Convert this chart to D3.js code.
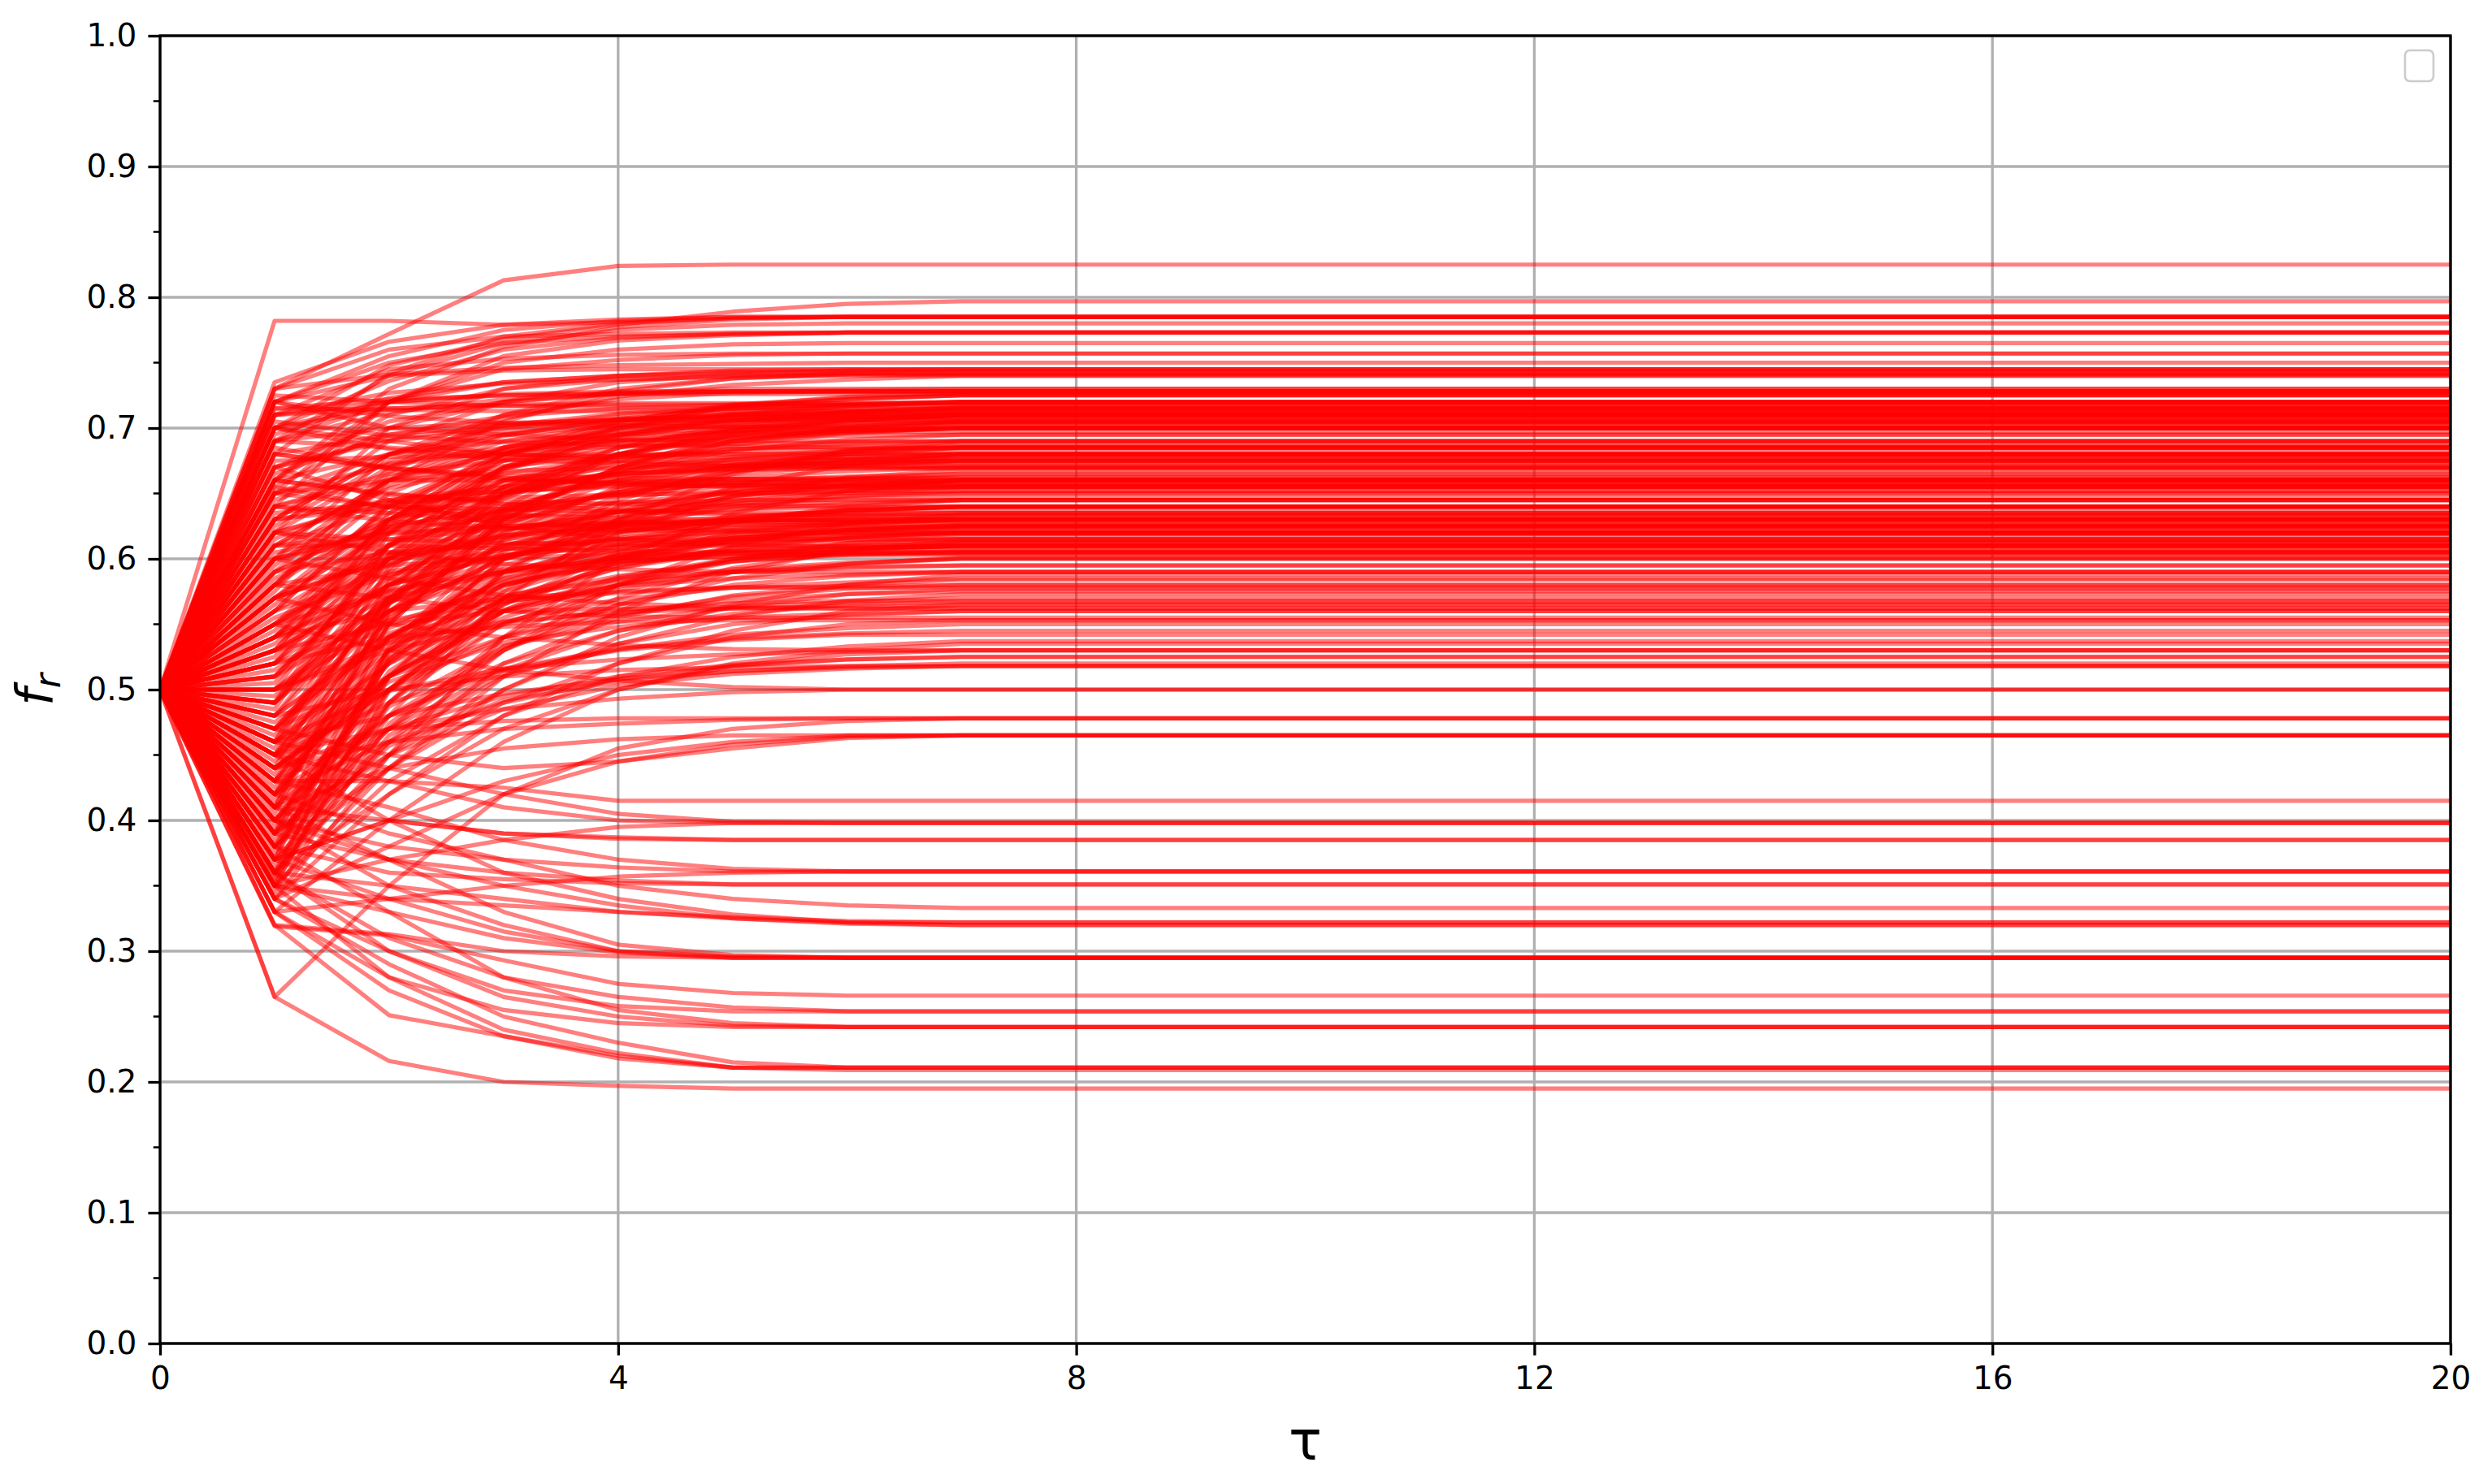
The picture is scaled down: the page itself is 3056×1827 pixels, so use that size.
<!DOCTYPE html>
<html>
<head>
<meta charset="utf-8">
<script src="https://cdn.jsdelivr.net/npm/d3@7"></script>
<style>
  html, body { margin: 0; padding: 0; background: #fff; }
  svg text { font-family: 'DejaVu Sans', sans-serif; fill: #000; }
</style>
</head>
<body>
<div id="chart"></div>
<script>
// time steps where each run is sampled (runs are flat after tau = 7)
const tau = [0, 1, 2, 3, 4, 5, 6, 7, 20]
const xTicks = [0, 4, 8, 12, 16, 20]
const yTicks = [0, 0.1, 0.2, 0.3, 0.4, 0.5, 0.6, 0.7, 0.8, 0.9, 1.0]
const yMinorTicks = [0.05, 0.15, 0.25, 0.35, 0.45, 0.55, 0.65, 0.75, 0.85, 0.95]

// f_r per run, grouped by where the run settles
const upperRuns = [
  [0.5, 0.73, 0.772, 0.813, 0.824, 0.825, 0.825, 0.825, 0.825],
  [0.5, 0.782, 0.782, 0.779, 0.781, 0.784, 0.785, 0.785, 0.785],
  [0.5, 0.70, 0.748, 0.768, 0.779, 0.789, 0.795, 0.797, 0.797],
  [0.5, 0.735, 0.766, 0.779, 0.783, 0.785, 0.785, 0.785, 0.785],
  [0.5, 0.68, 0.742, 0.77, 0.78, 0.784, 0.785, 0.785, 0.785],
  [0.5, 0.66, 0.73, 0.762, 0.777, 0.783, 0.785, 0.785, 0.785],
  [0.5, 0.72, 0.755, 0.775, 0.782, 0.785, 0.785, 0.785, 0.785],
  [0.5, 0.69, 0.74, 0.765, 0.775, 0.779, 0.78, 0.78, 0.78],
  [0.5, 0.73, 0.76, 0.77, 0.772, 0.773, 0.773, 0.773, 0.773],
  [0.5, 0.64, 0.72, 0.755, 0.767, 0.771, 0.773, 0.773, 0.773],
  [0.5, 0.70, 0.736, 0.76, 0.769, 0.772, 0.773, 0.773, 0.773],
  [0.5, 0.72, 0.75, 0.765, 0.77, 0.772, 0.773, 0.773, 0.773],
  [0.5, 0.65, 0.72, 0.75, 0.76, 0.764, 0.765, 0.765, 0.765],
  [0.5, 0.66, 0.72, 0.745, 0.752, 0.756, 0.757, 0.757, 0.757],
  [0.5, 0.71, 0.745, 0.753, 0.756, 0.757, 0.757, 0.757, 0.757],
  [0.5, 0.72, 0.74, 0.744, 0.745, 0.745, 0.745, 0.745, 0.745],
  [0.5, 0.62, 0.70, 0.73, 0.74, 0.744, 0.745, 0.745, 0.745],
  [0.5, 0.63, 0.69, 0.72, 0.735, 0.741, 0.744, 0.744, 0.744],
  [0.5, 0.69, 0.72, 0.735, 0.74, 0.742, 0.742, 0.742, 0.742],
  [0.5, 0.58, 0.66, 0.705, 0.728, 0.738, 0.742, 0.743, 0.743],
  [0.5, 0.58, 0.67, 0.71, 0.73, 0.738, 0.741, 0.741, 0.741],
  [0.5, 0.66, 0.71, 0.73, 0.737, 0.74, 0.741, 0.741, 0.741],
  [0.5, 0.67, 0.705, 0.72, 0.727, 0.73, 0.73, 0.73, 0.73],
  [0.5, 0.71, 0.72, 0.726, 0.728, 0.728, 0.728, 0.728, 0.728],
  [0.5, 0.60, 0.68, 0.71, 0.722, 0.727, 0.728, 0.728, 0.728],
  [0.5, 0.655, 0.70, 0.72, 0.726, 0.728, 0.728, 0.728, 0.728],
  [0.5, 0.52, 0.61, 0.67, 0.70, 0.717, 0.724, 0.727, 0.727],
  [0.5, 0.70, 0.72, 0.725, 0.726, 0.726, 0.726, 0.726, 0.726],
  [0.5, 0.54, 0.63, 0.68, 0.705, 0.718, 0.723, 0.725, 0.725],
]

const highBandRuns = [
  [0.5, 0.70, 0.715, 0.718, 0.719, 0.719, 0.719, 0.719, 0.719],
  [0.5, 0.71, 0.715, 0.717, 0.718, 0.718, 0.718, 0.718, 0.718],
  [0.5, 0.63, 0.68, 0.70, 0.71, 0.715, 0.717, 0.717, 0.717],
  [0.5, 0.49, 0.59, 0.65, 0.685, 0.703, 0.712, 0.716, 0.716],
  [0.5, 0.56, 0.64, 0.68, 0.70, 0.71, 0.714, 0.715, 0.715],
  [0.5, 0.53, 0.62, 0.67, 0.695, 0.707, 0.712, 0.714, 0.714],
  [0.5, 0.715, 0.714, 0.713, 0.713, 0.713, 0.713, 0.713, 0.713],
  [0.5, 0.67, 0.69, 0.70, 0.707, 0.71, 0.712, 0.712, 0.712],
  [0.5, 0.46, 0.57, 0.64, 0.68, 0.70, 0.709, 0.712, 0.712],
  [0.5, 0.60, 0.66, 0.69, 0.703, 0.709, 0.711, 0.711, 0.711],
  [0.5, 0.62, 0.67, 0.695, 0.706, 0.71, 0.711, 0.711, 0.711],
  [0.5, 0.45, 0.55, 0.63, 0.67, 0.695, 0.705, 0.71, 0.71],
  [0.5, 0.55, 0.63, 0.675, 0.697, 0.706, 0.709, 0.71, 0.71],
  [0.5, 0.68, 0.695, 0.703, 0.707, 0.709, 0.709, 0.709, 0.709],
  [0.5, 0.51, 0.60, 0.655, 0.685, 0.70, 0.706, 0.708, 0.708],
  [0.5, 0.58, 0.65, 0.685, 0.70, 0.706, 0.708, 0.708, 0.708],
  [0.5, 0.69, 0.70, 0.704, 0.706, 0.706, 0.706, 0.706, 0.706],
  [0.5, 0.65, 0.68, 0.695, 0.702, 0.705, 0.706, 0.706, 0.706],
  [0.5, 0.49, 0.58, 0.635, 0.67, 0.69, 0.70, 0.704, 0.704],
  [0.5, 0.61, 0.66, 0.685, 0.697, 0.702, 0.703, 0.703, 0.703],
  [0.5, 0.42, 0.55, 0.63, 0.67, 0.69, 0.70, 0.703, 0.703],
  [0.5, 0.52, 0.60, 0.65, 0.68, 0.693, 0.698, 0.70, 0.70],
  [0.5, 0.57, 0.64, 0.675, 0.69, 0.698, 0.70, 0.70, 0.70],
  [0.5, 0.66, 0.68, 0.69, 0.695, 0.697, 0.697, 0.697, 0.697],
  [0.5, 0.72, 0.70, 0.695, 0.691, 0.69, 0.69, 0.69, 0.69],
  [0.5, 0.36, 0.48, 0.57, 0.63, 0.665, 0.683, 0.69, 0.69],
  [0.5, 0.43, 0.53, 0.60, 0.645, 0.67, 0.682, 0.687, 0.687],
  [0.5, 0.57, 0.63, 0.665, 0.678, 0.684, 0.686, 0.686, 0.686],
  [0.5, 0.39, 0.51, 0.59, 0.64, 0.667, 0.68, 0.685, 0.685],
  [0.5, 0.47, 0.56, 0.62, 0.655, 0.672, 0.68, 0.682, 0.682],
  [0.5, 0.64, 0.665, 0.675, 0.679, 0.68, 0.68, 0.68, 0.68],
  [0.5, 0.40, 0.50, 0.575, 0.625, 0.655, 0.672, 0.679, 0.679],
  [0.5, 0.48, 0.57, 0.63, 0.66, 0.672, 0.676, 0.677, 0.677],
  [0.5, 0.69, 0.685, 0.68, 0.678, 0.677, 0.677, 0.677, 0.677],
  [0.5, 0.54, 0.61, 0.65, 0.667, 0.674, 0.676, 0.676, 0.676],
  [0.5, 0.54, 0.60, 0.64, 0.66, 0.67, 0.674, 0.675, 0.675],
  [0.5, 0.57, 0.62, 0.65, 0.665, 0.671, 0.673, 0.674, 0.674],
  [0.5, 0.70, 0.69, 0.68, 0.675, 0.673, 0.673, 0.673, 0.673],
  [0.5, 0.64, 0.66, 0.667, 0.67, 0.671, 0.671, 0.671, 0.671],
  [0.5, 0.59, 0.63, 0.655, 0.665, 0.669, 0.67, 0.67, 0.67],
  [0.5, 0.61, 0.64, 0.657, 0.665, 0.668, 0.669, 0.669, 0.669],
  [0.5, 0.38, 0.49, 0.57, 0.62, 0.648, 0.662, 0.668, 0.668],
  [0.5, 0.56, 0.61, 0.637, 0.651, 0.658, 0.661, 0.662, 0.662],
  [0.5, 0.59, 0.63, 0.65, 0.658, 0.661, 0.662, 0.662, 0.662],
  [0.5, 0.62, 0.645, 0.655, 0.659, 0.661, 0.661, 0.661, 0.661],
  [0.5, 0.34, 0.45, 0.54, 0.60, 0.635, 0.652, 0.66, 0.66],
  [0.5, 0.42, 0.52, 0.59, 0.63, 0.648, 0.655, 0.658, 0.658],
  [0.5, 0.52, 0.58, 0.62, 0.64, 0.651, 0.656, 0.658, 0.658],
  [0.5, 0.65, 0.66, 0.66, 0.659, 0.658, 0.658, 0.658, 0.658],
  [0.5, 0.63, 0.645, 0.652, 0.655, 0.656, 0.656, 0.656, 0.656],
  [0.5, 0.68, 0.67, 0.662, 0.657, 0.655, 0.655, 0.655, 0.655],
  [0.5, 0.55, 0.60, 0.63, 0.643, 0.65, 0.652, 0.652, 0.652],
  [0.5, 0.50, 0.56, 0.60, 0.625, 0.64, 0.648, 0.652, 0.652],
  [0.5, 0.50, 0.57, 0.61, 0.632, 0.642, 0.646, 0.647, 0.647],
  [0.5, 0.60, 0.625, 0.637, 0.643, 0.645, 0.645, 0.645, 0.645],
  [0.5, 0.41, 0.50, 0.565, 0.605, 0.628, 0.64, 0.645, 0.645],
]

const midBandRuns = [
  [0.5, 0.63, 0.64, 0.638, 0.636, 0.634, 0.633, 0.633, 0.633],
  [0.5, 0.49, 0.56, 0.60, 0.62, 0.63, 0.637, 0.638, 0.638],
  [0.5, 0.66, 0.65, 0.642, 0.637, 0.635, 0.635, 0.635, 0.635],
  [0.5, 0.37, 0.46, 0.53, 0.58, 0.61, 0.627, 0.634, 0.634],
  [0.5, 0.53, 0.58, 0.61, 0.625, 0.63, 0.632, 0.632, 0.632],
  [0.5, 0.57, 0.60, 0.617, 0.625, 0.629, 0.63, 0.631, 0.631],
  [0.5, 0.40, 0.49, 0.56, 0.60, 0.62, 0.627, 0.63, 0.63],
  [0.5, 0.60, 0.615, 0.623, 0.627, 0.629, 0.63, 0.63, 0.63],
  [0.5, 0.65, 0.64, 0.634, 0.631, 0.63, 0.629, 0.629, 0.629],
  [0.5, 0.61, 0.62, 0.625, 0.627, 0.628, 0.628, 0.628, 0.628],
  [0.5, 0.57, 0.60, 0.615, 0.622, 0.625, 0.626, 0.626, 0.626],
  [0.5, 0.43, 0.51, 0.565, 0.597, 0.614, 0.622, 0.626, 0.626],
  [0.5, 0.47, 0.54, 0.585, 0.607, 0.618, 0.623, 0.625, 0.625],
  [0.5, 0.54, 0.58, 0.603, 0.615, 0.621, 0.624, 0.625, 0.625],
  [0.5, 0.48, 0.54, 0.58, 0.603, 0.616, 0.622, 0.624, 0.624],
  [0.5, 0.46, 0.53, 0.575, 0.60, 0.614, 0.621, 0.624, 0.624],
  [0.5, 0.64, 0.635, 0.628, 0.624, 0.622, 0.622, 0.622, 0.622],
  [0.5, 0.51, 0.56, 0.59, 0.607, 0.616, 0.62, 0.621, 0.621],
  [0.5, 0.56, 0.59, 0.607, 0.615, 0.619, 0.62, 0.62, 0.62],
  [0.5, 0.45, 0.52, 0.57, 0.595, 0.608, 0.616, 0.619, 0.619],
  [0.5, 0.38, 0.47, 0.54, 0.58, 0.60, 0.612, 0.617, 0.617],
  [0.5, 0.59, 0.605, 0.611, 0.614, 0.615, 0.615, 0.615, 0.615],
  [0.5, 0.35, 0.44, 0.51, 0.56, 0.59, 0.607, 0.614, 0.614],
  [0.5, 0.45, 0.51, 0.555, 0.583, 0.60, 0.609, 0.613, 0.613],
  [0.5, 0.50, 0.55, 0.58, 0.597, 0.606, 0.61, 0.612, 0.612],
  [0.5, 0.39, 0.47, 0.53, 0.57, 0.593, 0.606, 0.612, 0.612],
  [0.5, 0.62, 0.615, 0.612, 0.611, 0.61, 0.61, 0.61, 0.61],
  [0.5, 0.44, 0.50, 0.55, 0.58, 0.598, 0.607, 0.61, 0.61],
  [0.5, 0.67, 0.645, 0.625, 0.615, 0.611, 0.609, 0.609, 0.609],
  [0.5, 0.53, 0.57, 0.59, 0.60, 0.605, 0.607, 0.607, 0.607],
  [0.5, 0.44, 0.51, 0.56, 0.585, 0.598, 0.604, 0.606, 0.606],
  [0.5, 0.61, 0.61, 0.608, 0.606, 0.605, 0.605, 0.605, 0.605],
  [0.5, 0.58, 0.595, 0.601, 0.603, 0.604, 0.604, 0.604, 0.604],
  [0.5, 0.55, 0.575, 0.59, 0.598, 0.602, 0.603, 0.603, 0.603],
  [0.5, 0.41, 0.48, 0.53, 0.565, 0.585, 0.596, 0.601, 0.601],
]

// runs that fill the fan between tau = 0 and tau = 4
const fanRuns = [
  [0.5, 0.35, 0.499, 0.566, 0.593, 0.609, 0.616, 0.62, 0.62],
  [0.5, 0.36, 0.525, 0.60, 0.63, 0.648, 0.656, 0.66, 0.66],
  [0.5, 0.37, 0.552, 0.634, 0.667, 0.687, 0.696, 0.70, 0.70],
  [0.5, 0.38, 0.523, 0.588, 0.614, 0.63, 0.637, 0.64, 0.64],
  [0.5, 0.39, 0.566, 0.646, 0.678, 0.697, 0.706, 0.71, 0.71],
  [0.5, 0.40, 0.51, 0.56, 0.58, 0.592, 0.597, 0.60, 0.60],
  [0.5, 0.41, 0.559, 0.626, 0.653, 0.669, 0.676, 0.68, 0.68],
  [0.5, 0.42, 0.53, 0.58, 0.60, 0.612, 0.617, 0.62, 0.62],
  [0.5, 0.43, 0.557, 0.614, 0.637, 0.651, 0.657, 0.66, 0.66],
  [0.5, 0.44, 0.583, 0.648, 0.674, 0.69, 0.697, 0.70, 0.70],
  [0.5, 0.45, 0.555, 0.602, 0.621, 0.632, 0.637, 0.64, 0.64],
  [0.5, 0.46, 0.603, 0.668, 0.694, 0.71, 0.717, 0.72, 0.72],
  [0.5, 0.47, 0.547, 0.582, 0.596, 0.604, 0.608, 0.61, 0.61],
  [0.5, 0.48, 0.585, 0.632, 0.651, 0.662, 0.667, 0.67, 0.67],
  [0.5, 0.49, 0.567, 0.602, 0.616, 0.624, 0.628, 0.63, 0.63],
  [0.5, 0.50, 0.61, 0.66, 0.68, 0.692, 0.697, 0.70, 0.70],
  [0.5, 0.51, 0.587, 0.622, 0.636, 0.644, 0.648, 0.65, 0.65],
  [0.5, 0.52, 0.63, 0.68, 0.70, 0.712, 0.717, 0.72, 0.72],
  [0.5, 0.53, 0.58, 0.602, 0.611, 0.616, 0.618, 0.62, 0.62],
  [0.5, 0.54, 0.623, 0.66, 0.675, 0.684, 0.688, 0.69, 0.69],
  [0.5, 0.55, 0.611, 0.638, 0.649, 0.656, 0.658, 0.66, 0.66],
  [0.5, 0.56, 0.643, 0.68, 0.695, 0.704, 0.708, 0.71, 0.71],
  [0.5, 0.57, 0.603, 0.618, 0.624, 0.628, 0.629, 0.63, 0.63],
  [0.5, 0.58, 0.635, 0.66, 0.67, 0.676, 0.678, 0.68, 0.68],
  [0.5, 0.59, 0.662, 0.694, 0.707, 0.715, 0.718, 0.72, 0.72],
  [0.5, 0.60, 0.622, 0.632, 0.636, 0.638, 0.639, 0.64, 0.64],
  [0.5, 0.61, 0.66, 0.682, 0.691, 0.696, 0.698, 0.70, 0.70],
  [0.5, 0.62, 0.642, 0.652, 0.656, 0.658, 0.659, 0.66, 0.66],
  [0.5, 0.63, 0.68, 0.702, 0.711, 0.716, 0.718, 0.72, 0.72],
  [0.5, 0.64, 0.629, 0.624, 0.622, 0.621, 0.62, 0.62, 0.62],
  [0.5, 0.65, 0.672, 0.682, 0.686, 0.688, 0.689, 0.69, 0.69],
  [0.5, 0.66, 0.649, 0.644, 0.642, 0.641, 0.64, 0.64, 0.64],
  [0.5, 0.67, 0.692, 0.702, 0.706, 0.708, 0.709, 0.71, 0.71],
  [0.5, 0.68, 0.669, 0.664, 0.662, 0.661, 0.66, 0.66, 0.66],
  [0.5, 0.69, 0.712, 0.722, 0.726, 0.728, 0.729, 0.73, 0.73],
  [0.5, 0.70, 0.684, 0.676, 0.673, 0.671, 0.67, 0.67, 0.67],
  [0.5, 0.71, 0.727, 0.734, 0.737, 0.739, 0.74, 0.74, 0.74],
  [0.5, 0.72, 0.709, 0.704, 0.702, 0.701, 0.70, 0.70, 0.70],
  [0.5, 0.73, 0.741, 0.746, 0.748, 0.749, 0.75, 0.75, 0.75],
  [0.5, 0.345, 0.474, 0.533, 0.557, 0.571, 0.577, 0.58, 0.58],
  [0.5, 0.355, 0.534, 0.615, 0.648, 0.667, 0.675, 0.68, 0.68],
  [0.5, 0.365, 0.50, 0.561, 0.586, 0.60, 0.606, 0.61, 0.61],
  [0.5, 0.375, 0.529, 0.599, 0.627, 0.644, 0.651, 0.655, 0.655],
  [0.5, 0.385, 0.487, 0.533, 0.552, 0.563, 0.567, 0.57, 0.57],
  [0.5, 0.395, 0.522, 0.579, 0.602, 0.616, 0.622, 0.625, 0.625],
  [0.5, 0.405, 0.565, 0.637, 0.666, 0.683, 0.691, 0.695, 0.695],
  [0.5, 0.415, 0.539, 0.595, 0.618, 0.631, 0.637, 0.64, 0.64],
  [0.5, 0.425, 0.524, 0.569, 0.587, 0.598, 0.603, 0.605, 0.605],
  [0.5, 0.435, 0.567, 0.627, 0.651, 0.665, 0.671, 0.675, 0.675],
  [0.5, 0.445, 0.541, 0.585, 0.603, 0.613, 0.617, 0.62, 0.62],
  [0.5, 0.455, 0.593, 0.655, 0.68, 0.695, 0.701, 0.705, 0.705],
  [0.5, 0.465, 0.57, 0.617, 0.636, 0.647, 0.652, 0.655, 0.655],
  [0.5, 0.475, 0.538, 0.567, 0.579, 0.585, 0.588, 0.59, 0.59],
  [0.5, 0.485, 0.612, 0.669, 0.692, 0.706, 0.712, 0.715, 0.715],
  [0.5, 0.495, 0.572, 0.607, 0.621, 0.629, 0.633, 0.635, 0.635],
  [0.5, 0.505, 0.604, 0.649, 0.667, 0.678, 0.683, 0.685, 0.685],
  [0.5, 0.515, 0.567, 0.591, 0.601, 0.606, 0.608, 0.61, 0.61],
  [0.5, 0.525, 0.635, 0.685, 0.705, 0.717, 0.722, 0.725, 0.725],
  [0.5, 0.535, 0.596, 0.623, 0.634, 0.641, 0.643, 0.645, 0.645],
  [0.5, 0.545, 0.63, 0.669, 0.685, 0.694, 0.698, 0.70, 0.70],
  [0.5, 0.555, 0.588, 0.603, 0.609, 0.613, 0.614, 0.615, 0.615],
  [0.5, 0.565, 0.626, 0.653, 0.664, 0.671, 0.673, 0.675, 0.675],
  [0.5, 0.575, 0.666, 0.707, 0.724, 0.733, 0.737, 0.74, 0.74],
  [0.5, 0.585, 0.624, 0.641, 0.648, 0.652, 0.654, 0.655, 0.655],
  [0.5, 0.595, 0.656, 0.683, 0.694, 0.701, 0.703, 0.705, 0.705],
  [0.5, 0.605, 0.619, 0.625, 0.628, 0.629, 0.63, 0.63, 0.63],
  [0.5, 0.615, 0.654, 0.671, 0.678, 0.682, 0.684, 0.685, 0.685],
  [0.5, 0.625, 0.675, 0.697, 0.706, 0.711, 0.713, 0.715, 0.715],
  [0.5, 0.635, 0.643, 0.647, 0.649, 0.65, 0.65, 0.65, 0.65],
  [0.5, 0.645, 0.673, 0.685, 0.69, 0.693, 0.694, 0.695, 0.695],
  [0.5, 0.655, 0.639, 0.631, 0.628, 0.626, 0.625, 0.625, 0.625],
  [0.5, 0.665, 0.695, 0.709, 0.715, 0.718, 0.719, 0.72, 0.72],
  [0.5, 0.675, 0.678, 0.679, 0.68, 0.68, 0.68, 0.68, 0.68],
  [0.5, 0.685, 0.669, 0.661, 0.658, 0.656, 0.655, 0.655, 0.655],
  [0.5, 0.695, 0.723, 0.735, 0.74, 0.743, 0.744, 0.745, 0.745],
  [0.5, 0.705, 0.694, 0.689, 0.687, 0.686, 0.685, 0.685, 0.685],
  [0.5, 0.715, 0.722, 0.725, 0.727, 0.728, 0.728, 0.728, 0.728],
  [0.5, 0.725, 0.72, 0.717, 0.716, 0.715, 0.715, 0.715, 0.715],
  [0.5, 0.36, 0.465, 0.512, 0.531, 0.542, 0.547, 0.55, 0.55],
  [0.5, 0.38, 0.457, 0.492, 0.506, 0.514, 0.518, 0.52, 0.52],
  [0.5, 0.40, 0.48, 0.516, 0.531, 0.539, 0.543, 0.545, 0.545],
  [0.5, 0.42, 0.511, 0.552, 0.569, 0.578, 0.582, 0.585, 0.585],
  [0.5, 0.44, 0.506, 0.536, 0.548, 0.555, 0.558, 0.56, 0.56],
  [0.5, 0.46, 0.499, 0.516, 0.523, 0.527, 0.529, 0.53, 0.53],
  [0.5, 0.48, 0.543, 0.572, 0.584, 0.59, 0.593, 0.595, 0.595],
  [0.5, 0.50, 0.536, 0.552, 0.559, 0.562, 0.564, 0.565, 0.565],
  [0.5, 0.52, 0.553, 0.568, 0.574, 0.578, 0.579, 0.58, 0.58],
  [0.5, 0.54, 0.576, 0.592, 0.599, 0.602, 0.604, 0.605, 0.605],
  [0.5, 0.35, 0.51, 0.582, 0.611, 0.628, 0.636, 0.64, 0.64],
  [0.5, 0.355, 0.49, 0.551, 0.576, 0.59, 0.596, 0.60, 0.60],
  [0.5, 0.37, 0.532, 0.606, 0.636, 0.653, 0.661, 0.665, 0.665],
  [0.5, 0.39, 0.514, 0.57, 0.593, 0.606, 0.612, 0.615, 0.615],
  [0.5, 0.41, 0.575, 0.65, 0.68, 0.698, 0.706, 0.71, 0.71],
  [0.5, 0.43, 0.54, 0.59, 0.61, 0.622, 0.627, 0.63, 0.63],
  [0.5, 0.45, 0.579, 0.638, 0.662, 0.676, 0.682, 0.685, 0.685],
  [0.5, 0.47, 0.566, 0.61, 0.628, 0.638, 0.642, 0.645, 0.645],
  [0.5, 0.49, 0.619, 0.678, 0.702, 0.716, 0.722, 0.725, 0.725],
  [0.5, 0.51, 0.595, 0.634, 0.65, 0.659, 0.663, 0.665, 0.665],
  [0.5, 0.53, 0.626, 0.67, 0.688, 0.698, 0.702, 0.705, 0.705],
  [0.5, 0.55, 0.597, 0.618, 0.627, 0.632, 0.634, 0.635, 0.635],
]

const lowBandRuns = [
  [0.5, 0.46, 0.52, 0.56, 0.58, 0.59, 0.594, 0.595, 0.595],
  [0.5, 0.62, 0.605, 0.596, 0.592, 0.59, 0.59, 0.59, 0.59],
  [0.5, 0.44, 0.50, 0.54, 0.565, 0.58, 0.587, 0.59, 0.59],
  [0.5, 0.39, 0.45, 0.50, 0.54, 0.565, 0.58, 0.588, 0.588],
  [0.5, 0.36, 0.45, 0.52, 0.555, 0.572, 0.58, 0.584, 0.584],
  [0.5, 0.54, 0.56, 0.57, 0.575, 0.578, 0.578, 0.578, 0.578],
  [0.5, 0.41, 0.47, 0.515, 0.545, 0.563, 0.573, 0.577, 0.577],
  [0.5, 0.47, 0.51, 0.54, 0.558, 0.568, 0.573, 0.575, 0.575],
  [0.5, 0.37, 0.44, 0.50, 0.535, 0.556, 0.568, 0.573, 0.573],
  [0.5, 0.50, 0.53, 0.55, 0.561, 0.566, 0.568, 0.568, 0.568],
  [0.5, 0.42, 0.48, 0.52, 0.545, 0.558, 0.565, 0.567, 0.567],
  [0.5, 0.34, 0.42, 0.48, 0.52, 0.545, 0.56, 0.565, 0.565],
  [0.5, 0.60, 0.585, 0.572, 0.566, 0.563, 0.562, 0.562, 0.562],
  [0.5, 0.53, 0.55, 0.56, 0.562, 0.562, 0.562, 0.562, 0.562],
  [0.5, 0.39, 0.46, 0.51, 0.535, 0.55, 0.557, 0.56, 0.56],
  [0.5, 0.58, 0.57, 0.56, 0.556, 0.555, 0.555, 0.555, 0.555],
  [0.5, 0.52, 0.54, 0.548, 0.552, 0.553, 0.553, 0.553, 0.553],
  [0.5, 0.38, 0.44, 0.49, 0.52, 0.54, 0.55, 0.553, 0.553],
  [0.5, 0.45, 0.49, 0.515, 0.53, 0.538, 0.542, 0.542, 0.542],
  [0.5, 0.35, 0.43, 0.48, 0.51, 0.525, 0.533, 0.537, 0.537],
  [0.5, 0.33, 0.40, 0.46, 0.50, 0.52, 0.53, 0.535, 0.535],
  [0.5, 0.57, 0.55, 0.54, 0.534, 0.531, 0.53, 0.53, 0.53],
  [0.5, 0.36, 0.42, 0.47, 0.50, 0.518, 0.527, 0.53, 0.53],
  [0.5, 0.43, 0.47, 0.495, 0.51, 0.519, 0.523, 0.525, 0.525],
  [0.5, 0.42, 0.46, 0.49, 0.508, 0.518, 0.523, 0.525, 0.525],
  [0.5, 0.40, 0.45, 0.485, 0.503, 0.512, 0.516, 0.518, 0.518],
  [0.5, 0.48, 0.50, 0.51, 0.515, 0.517, 0.518, 0.518, 0.518],
  [0.5, 0.46, 0.48, 0.497, 0.508, 0.514, 0.517, 0.518, 0.518],
  [0.5, 0.44, 0.47, 0.485, 0.493, 0.498, 0.50, 0.50, 0.50],
  [0.5, 0.55, 0.53, 0.515, 0.507, 0.502, 0.50, 0.50, 0.50],
]

const lowerRuns = [
  [0.5, 0.45, 0.47, 0.476, 0.478, 0.478, 0.478, 0.478, 0.478],
  [0.5, 0.44, 0.46, 0.47, 0.474, 0.477, 0.478, 0.478, 0.478],
  [0.5, 0.265, 0.35, 0.42, 0.455, 0.47, 0.476, 0.478, 0.478],
  [0.5, 0.34, 0.38, 0.42, 0.445, 0.458, 0.464, 0.465, 0.465],
  [0.5, 0.41, 0.44, 0.455, 0.462, 0.465, 0.465, 0.465, 0.465],
  [0.5, 0.37, 0.40, 0.43, 0.45, 0.46, 0.465, 0.465, 0.465],
  [0.5, 0.47, 0.45, 0.44, 0.445, 0.455, 0.463, 0.465, 0.465],
  [0.5, 0.43, 0.43, 0.425, 0.415, 0.415, 0.415, 0.415, 0.415],
  [0.5, 0.35, 0.37, 0.385, 0.395, 0.398, 0.398, 0.398, 0.398],
  [0.5, 0.45, 0.43, 0.41, 0.40, 0.398, 0.398, 0.398, 0.398],
  [0.5, 0.46, 0.44, 0.42, 0.405, 0.399, 0.398, 0.398, 0.398],
  [0.5, 0.37, 0.40, 0.39, 0.386, 0.385, 0.385, 0.385, 0.385],
  [0.5, 0.41, 0.40, 0.39, 0.387, 0.385, 0.385, 0.385, 0.385],
  [0.5, 0.40, 0.38, 0.37, 0.364, 0.361, 0.361, 0.361, 0.361],
  [0.5, 0.33, 0.34, 0.35, 0.357, 0.36, 0.361, 0.361, 0.361],
  [0.5, 0.43, 0.41, 0.385, 0.37, 0.363, 0.361, 0.361, 0.361],
  [0.5, 0.38, 0.36, 0.355, 0.352, 0.351, 0.351, 0.351, 0.351],
  [0.5, 0.39, 0.37, 0.36, 0.354, 0.351, 0.351, 0.351, 0.351],
  [0.5, 0.42, 0.39, 0.37, 0.35, 0.34, 0.335, 0.333, 0.333],
  [0.5, 0.36, 0.35, 0.34, 0.33, 0.325, 0.322, 0.322, 0.322],
  [0.5, 0.35, 0.34, 0.335, 0.33, 0.326, 0.323, 0.322, 0.322],
  [0.5, 0.40, 0.37, 0.35, 0.335, 0.325, 0.321, 0.32, 0.32],
  [0.5, 0.45, 0.40, 0.36, 0.34, 0.328, 0.322, 0.32, 0.32],
  [0.5, 0.32, 0.313, 0.30, 0.296, 0.295, 0.295, 0.295, 0.295],
  [0.5, 0.35, 0.33, 0.31, 0.299, 0.295, 0.295, 0.295, 0.295],
  [0.5, 0.40, 0.35, 0.32, 0.30, 0.295, 0.295, 0.295, 0.295],
  [0.5, 0.37, 0.34, 0.315, 0.30, 0.296, 0.295, 0.295, 0.295],
  [0.5, 0.41, 0.37, 0.33, 0.305, 0.297, 0.295, 0.295, 0.295],
  [0.5, 0.319, 0.312, 0.293, 0.275, 0.268, 0.266, 0.266, 0.266],
  [0.5, 0.34, 0.30, 0.27, 0.258, 0.254, 0.254, 0.254, 0.254],
  [0.5, 0.36, 0.31, 0.28, 0.265, 0.257, 0.254, 0.254, 0.254],
  [0.5, 0.33, 0.28, 0.255, 0.245, 0.242, 0.242, 0.242, 0.242],
  [0.5, 0.36, 0.30, 0.265, 0.25, 0.243, 0.242, 0.242, 0.242],
  [0.5, 0.38, 0.33, 0.28, 0.255, 0.245, 0.242, 0.242, 0.242],
  [0.5, 0.32, 0.251, 0.235, 0.22, 0.211, 0.211, 0.211, 0.211],
  [0.5, 0.35, 0.28, 0.24, 0.222, 0.211, 0.211, 0.211, 0.211],
  [0.5, 0.34, 0.29, 0.25, 0.23, 0.215, 0.211, 0.211, 0.211],
  [0.5, 0.33, 0.27, 0.235, 0.218, 0.211, 0.209, 0.209, 0.209],
  [0.5, 0.265, 0.216, 0.20, 0.197, 0.195, 0.195, 0.195, 0.195],
]

const buildChart = (width, height) => {
  const plot = { left: 197, right: 3016, top: 44, bottom: 1654 }
  const majorLen = 14.6
  const minorLen = 8.3
  const lineW = 3.3

  const svg = d3
    .select('#chart')
    .append('svg')
    .attr('width', width)
    .attr('height', height)

  svg.append('rect').attr('width', width).attr('height', height).attr('fill', '#fff')

  const x = d3.scaleLinear().domain([0, 20]).range([plot.left, plot.right])
  const y = d3.scaleLinear().domain([0, 1]).range([plot.bottom, plot.top])

  svg
    .append('defs')
    .append('clipPath')
    .attr('id', 'plot-clip')
    .append('rect')
    .attr('x', plot.left)
    .attr('y', plot.top)
    .attr('width', plot.right - plot.left)
    .attr('height', plot.bottom - plot.top)

  // grid under the lines
  const grid = svg.append('g').attr('stroke', '#b0b0b0').attr('stroke-width', lineW)
  grid
    .selectAll('line.gx')
    .data(xTicks)
    .enter()
    .append('line')
    .attr('x1', (d) => x(d))
    .attr('x2', (d) => x(d))
    .attr('y1', plot.top)
    .attr('y2', plot.bottom)
  grid
    .selectAll('line.gy')
    .data(yTicks)
    .enter()
    .append('line')
    .attr('x1', plot.left)
    .attr('x2', plot.right)
    .attr('y1', (d) => y(d))
    .attr('y2', (d) => y(d))

  const allRuns = [
    ...upperRuns,
    ...highBandRuns,
    ...midBandRuns,
    ...fanRuns,
    ...lowBandRuns,
    ...lowerRuns,
  ]
  const line = d3
    .line()
    .x((d, i) => x(tau[i]))
    .y((d) => y(d))

  svg
    .append('g')
    .attr('clip-path', 'url(#plot-clip)')
    .selectAll('path')
    .data(allRuns)
    .enter()
    .append('path')
    .attr('d', line)
    .attr('fill', 'none')
    .attr('stroke', '#ff0000')
    .attr('stroke-opacity', 0.5)
    .attr('stroke-width', 5.2)
    .attr('stroke-linejoin', 'round')

  // empty legend frame, top right
  svg
    .append('rect')
    .attr('x', 2960)
    .attr('y', 62)
    .attr('width', 35)
    .attr('height', 38)
    .attr('rx', 6)
    .attr('fill', '#fff')
    .attr('fill-opacity', 0.8)
    .attr('stroke', '#cccccc')
    .attr('stroke-width', 2.6)

  // spines
  svg
    .append('rect')
    .attr('x', plot.left)
    .attr('y', plot.top)
    .attr('width', plot.right - plot.left)
    .attr('height', plot.bottom - plot.top)
    .attr('fill', 'none')
    .attr('stroke', '#000')
    .attr('stroke-width', lineW)

  // axes
  const xAxis = d3
    .axisBottom(x)
    .tickValues(xTicks)
    .tickSize(majorLen)
    .tickPadding(14)
    .tickFormat(d3.format('d'))
  const gx = svg
    .append('g')
    .attr('transform', `translate(0,${plot.bottom})`)
    .call(xAxis)
  gx.select('.domain').remove()
  gx.selectAll('.tick line').attr('stroke', '#000').attr('stroke-width', lineW)
  gx.selectAll('.tick text')
    .attr('font-size', 39)
    .attr('font-family', 'DejaVu Sans')
    .attr('fill', '#000')

  const yAxis = d3
    .axisLeft(y)
    .tickValues(yTicks)
    .tickSize(majorLen)
    .tickPadding(14)
    .tickFormat(d3.format('.1f'))
  const gy = svg
    .append('g')
    .attr('transform', `translate(${plot.left},0)`)
    .call(yAxis)
  gy.select('.domain').remove()
  gy.selectAll('.tick line').attr('stroke', '#000').attr('stroke-width', lineW)
  gy.selectAll('.tick text')
    .attr('font-size', 39)
    .attr('font-family', 'DejaVu Sans')
    .attr('fill', '#000')

  svg
    .append('g')
    .selectAll('line')
    .data(yMinorTicks)
    .enter()
    .append('line')
    .attr('x1', plot.left - minorLen)
    .attr('x2', plot.left)
    .attr('y1', (d) => y(d))
    .attr('y2', (d) => y(d))
    .attr('stroke', '#000')
    .attr('stroke-width', 2.5)

  // axis labels
  svg
    .append('text')
    .attr('x', (plot.left + plot.right) / 2)
    .attr('y', 1797)
    .attr('text-anchor', 'middle')
    .attr('font-size', 68)
    .text('τ')

  const yl = svg
    .append('text')
    .attr('transform', `translate(64,${(plot.top + plot.bottom) / 2}) rotate(-90)`)
    .attr('text-anchor', 'middle')
    .attr('font-size', 62)
    .attr('font-style', 'italic')
  yl.append('tspan').text('f')
  yl.append('tspan').attr('font-size', 44).attr('dy', 10).text('r')
}

buildChart(3056, 1827)
</script>
</body>
</html>
